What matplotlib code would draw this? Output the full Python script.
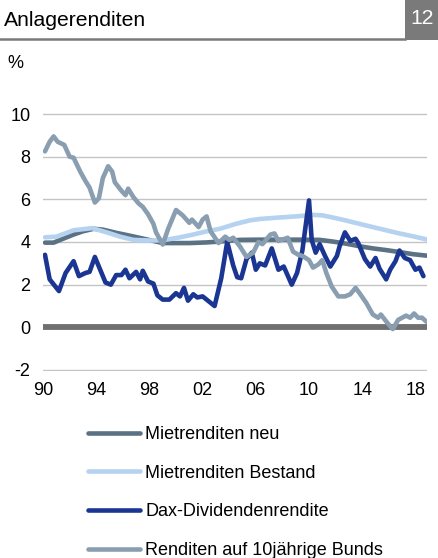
import matplotlib.pyplot as plt
from matplotlib.lines import Line2D
from matplotlib.patches import Rectangle

plt.rcParams["font.family"] = ["Liberation Sans", "DejaVu Sans"]
plt.rcParams["axes.unicode_minus"] = False

# Mietrenditen neu
neu_years = [1990.15, 1990.8, 1991.5, 1992.3, 1993.0, 1993.8, 1994.5, 1995.5, 1996.5,
             1997.3, 1998.3, 1999.0, 1999.8, 2001.0, 2002.3, 2003.5, 2004.8, 2006.3,
             2007.8, 2009.3, 2010.8, 2011.8, 2012.8, 2013.8, 2014.8, 2015.8, 2016.8,
             2017.8, 2018.85]
neu_vals = [3.97, 3.97, 4.15, 4.35, 4.5, 4.62, 4.58, 4.43, 4.3,
            4.19, 4.05, 3.95, 3.95, 3.95, 3.98, 4.03, 4.1, 4.11,
            4.11, 4.11, 4.1, 4.02, 3.92, 3.8, 3.7, 3.62, 3.53,
            3.43, 3.36]

# Mietrenditen Bestand
bestand_years = [1990.15, 1991.0, 1992.3, 1993.7, 1994.8, 1995.8, 1996.8, 1998.0,
                 1999.0, 2000.3, 2001.3, 2002.3, 2003.3, 2004.5, 2005.6, 2006.3,
                 2007.8, 2009.0, 2010.3, 2011.0, 2012.0, 2012.7, 2013.8, 2014.8,
                 2015.8, 2016.8, 2017.8, 2018.85]
bestand_vals = [4.22, 4.25, 4.55, 4.65, 4.45, 4.25, 4.1, 4.07,
                4.08, 4.22, 4.35, 4.5, 4.62, 4.85, 5.02, 5.08,
                5.15, 5.2, 5.27, 5.25, 5.12, 5.02, 4.85, 4.7,
                4.55, 4.4, 4.27, 4.12]

# Dax-Dividendenrendite
dax_years = [1990.15, 1990.5, 1991.2, 1991.7, 1992.3, 1992.7, 1993.2, 1993.5, 1993.9,
             1994.3, 1994.7, 1995.1, 1995.5, 1995.9, 1996.2, 1996.5, 1997.0, 1997.3,
             1997.5, 1997.9, 1998.3, 1998.6, 1999.0, 1999.5, 2000.0, 2000.3, 2000.6,
             2000.9, 2001.3, 2001.6, 2002.0, 2002.4, 2002.9, 2003.4, 2003.85, 2004.3,
             2004.6, 2004.9, 2005.3, 2005.7, 2006.0, 2006.3, 2006.7, 2007.2, 2007.7,
             2008.1, 2008.7, 2009.1, 2009.5, 2010.0, 2010.2, 2010.5, 2010.8, 2011.2,
             2011.6, 2012.1, 2012.3, 2012.7, 2013.1, 2013.5, 2013.7, 2014.2, 2014.6,
             2015.0, 2015.3, 2015.8, 2016.1, 2016.5, 2016.8, 2017.2, 2017.6, 2018.0,
             2018.3, 2018.6]
dax_vals = [3.4, 2.25, 1.7, 2.55, 3.1, 2.4, 2.55, 2.6, 3.3,
            2.7, 2.1, 2.0, 2.45, 2.45, 2.7, 2.3, 2.6, 2.25,
            2.65, 2.15, 2.05, 1.5, 1.3, 1.3, 1.6, 1.45, 1.85,
            1.25, 1.55, 1.4, 1.45, 1.25, 1.0, 2.3, 4.0, 2.9,
            2.35, 2.3, 3.2, 3.5, 2.7, 3.0, 2.9, 3.7, 2.7,
            2.85, 2.0, 2.55, 3.6, 5.95, 4.1, 3.5, 3.9, 3.35,
            2.85, 3.35, 3.8, 4.45, 4.05, 4.15, 3.95, 3.2, 2.85,
            3.25, 2.75, 2.25, 2.7, 3.1, 3.6, 3.25, 3.15, 2.7,
            2.8, 2.4]

# Renditen auf 10jährige Bunds
bund_years = [1990.15, 1990.5, 1990.8, 1991.1, 1991.6, 1992.0, 1992.3, 1992.8, 1993.2,
              1993.5, 1993.9, 1994.2, 1994.5, 1994.9, 1995.2, 1995.4, 1995.9, 1996.2,
              1996.4, 1996.8, 1997.2, 1997.5, 1997.9, 1998.3, 1998.5, 1999.0, 1999.4,
              2000.0, 2000.5, 2001.0, 2001.2, 2001.7, 2002.0, 2002.3, 2002.6, 2003.2,
              2003.7, 2004.0, 2004.3, 2004.8, 2005.3, 2005.8, 2006.2, 2006.5, 2007.1,
              2007.4, 2007.7, 2008.4, 2008.8, 2009.2, 2009.5, 2010.0, 2010.3, 2010.7,
              2011.0, 2011.3, 2011.7, 2012.2, 2012.7, 2013.1, 2013.5, 2013.8, 2014.3,
              2014.8, 2015.2, 2015.4, 2015.9, 2016.3, 2016.7, 2017.0, 2017.3, 2017.6,
              2017.9, 2018.2, 2018.5, 2018.85]
bund_vals = [8.25, 8.7, 8.95, 8.7, 8.55, 8.0, 7.95, 7.3, 6.85,
             6.55, 5.85, 6.05, 7.0, 7.55, 7.3, 6.8, 6.4, 6.2,
             6.5, 6.1, 5.8, 5.65, 5.3, 4.85, 4.45, 3.88, 4.6,
             5.5, 5.25, 4.9, 5.05, 4.7, 5.05, 5.2, 4.5, 3.95,
             4.25, 4.1, 4.2, 3.8, 3.3, 3.5, 4.0, 3.9, 4.35,
             4.4, 4.05, 4.2, 3.55, 3.4, 3.35, 3.15, 2.8, 2.95,
             3.15, 2.55, 1.92, 1.45, 1.45, 1.55, 1.85, 1.6, 1.15,
             0.6, 0.45, 0.6, 0.2, -0.08, 0.35, 0.45, 0.55, 0.45,
             0.65, 0.45, 0.45, 0.25]

x_ticks = [1990, 1994, 1998, 2002, 2006, 2010, 2014, 2018]
x_labels = ["90", "94", "98", "02", "06", "10", "14", "18"]
y_ticks = [-2, 0, 2, 4, 6, 8, 10]

fig = plt.figure(figsize=(4.39, 5.58), dpi=100)
W, H = 439, 558
ax = fig.add_axes([43 / W, 1 - 371 / H, 384 / W, 258 / H])

ax.axhline(0, color="#707070", lw=4.2, zorder=1)
l1, = ax.plot(neu_years, neu_vals, color="#5b7184", lw=3.3, zorder=2,
              solid_capstyle="round", label="Mietrenditen neu")
l2, = ax.plot(bestand_years, bestand_vals, color="#b5d3f0", lw=3.3, zorder=2,
              solid_capstyle="round", label="Mietrenditen Bestand")
l3, = ax.plot(dax_years, dax_vals, color="#1b3593", lw=3.3, zorder=3,
              solid_capstyle="round", label="Dax-Dividendenrendite")
l4, = ax.plot(bund_years, bund_vals, color="#8a9eb1", lw=3.3, zorder=4,
              solid_capstyle="round", label="Renditen auf 10jährige Bunds")

ax.set_xlim(1990, 2018.87)
ax.set_ylim(-2.047, 10.047)
ax.set_yticks(y_ticks)
ax.set_xticks(x_ticks)
ax.set_xticklabels(x_labels)
ax.set_axisbelow(True)
ax.grid(axis="y", color="#c4c4c4", lw=1)
for s in ax.spines.values():
    s.set_visible(False)
ax.tick_params(length=0, labelsize=13, colors="#000000")
ax.tick_params(axis="y", pad=9)
ax.tick_params(axis="x", pad=8)

# header
fig.text(4 / W, 1 - 20 / H, "Anlagerenditen", fontsize=15.2, va="center", ha="left")
fig.add_artist(Line2D([0, 405 / W], [1 - 39 / H, 1 - 39 / H], color="#7a7a7a", lw=1.8))
fig.add_artist(Rectangle((405 / W, 1 - 40 / H), 34 / W, 40 / H, color="#7a7a7a", lw=0))
fig.text(422 / W, 1 - 19 / H, "12", fontsize=15.2, color="white", va="center", ha="center")
fig.text(7 / W, 1 - 64 / H, "%", fontsize=13, va="center", ha="left")

fig.legend(handles=[l1, l2, l3, l4], loc="upper left",
           bbox_to_anchor=(88 / W, 1 - 426 / H), frameon=False, fontsize=13,
           handlelength=2.9, handletextpad=0.28, labelspacing=1.2, borderpad=0,
           borderaxespad=0)

fig.savefig("out.png", dpi=100)
